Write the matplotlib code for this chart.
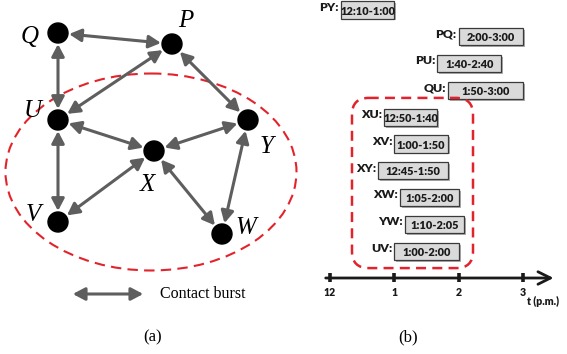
import matplotlib
matplotlib.use("Agg")
import matplotlib.pyplot as plt
from matplotlib.patches import Ellipse, FancyArrowPatch, FancyBboxPatch, Circle

# ---------------------------------------------------------------- data
nodes = ["Q", "P", "U", "Y", "X", "V", "W"]
edges = [("Q", "P"), ("Q", "U"), ("P", "U"), ("P", "Y"), ("U", "X"),
         ("U", "V"), ("Y", "X"), ("Y", "W"), ("X", "V"), ("X", "W")]

pairs = ["PY", "PQ", "PU", "QU", "XU", "XV", "XY", "XW", "YW", "UV"]
starts = ["12:10", "2:00", "1:40", "1:50", "12:50", "1:00", "12:45", "1:05", "1:10", "1:00"]
ends = ["1:00", "3:00", "2:40", "3:00", "1:40", "1:50", "1:50", "2:00", "2:05", "2:00"]
hour_ticks = [0, 1, 2, 3]
hour_labels = ["12", "1", "2", "3"]

# layout of the graph (pixel space of panel a)
pos = {"Q": (58, 33), "P": (172, 44), "U": (58, 120), "Y": (248, 120),
       "X": (154, 151), "V": (58, 222), "W": (222, 234)}
lab = {"Q": (30, 37), "P": (186, 21), "U": (33, 111), "Y": (267, 147),
       "X": (147, 185), "V": (33, 215), "W": (246, 228)}


def to_hours(t):
    h, m = map(int, t.split(":"))
    return (h % 12) + m / 60


GREY = "#5e5e5e"
RED = "#e3232b"
HEAD = "<|-|>,head_length=3.6,head_width=1.9"

fig = plt.figure(figsize=(5.67, 3.54), dpi=100)
ax = fig.add_axes([0, 0, 1, 1])
ax.set_xlim(0, 567); ax.set_ylim(354, 0); ax.axis("off")

# ------------------------------------------------------------ panel (a)
ax.add_patch(Ellipse((151, 172), 291, 197, fill=False, ec=RED, lw=1.5,
                     ls=(0, (5, 3)), zorder=1))
for a, b in edges:
    ax.add_patch(FancyArrowPatch(pos[a], pos[b], arrowstyle=HEAD,
                                 color=GREY, lw=2.2, shrinkA=8, shrinkB=8,
                                 mutation_scale=2, zorder=2))
for n in nodes:
    ax.add_patch(Circle(pos[n], 10, color="black", zorder=3))
    ax.text(*lab[n], n, family="Liberation Serif", style="italic", fontsize=18,
            ha="center", va="center", zorder=4)

ax.add_patch(FancyArrowPatch((70, 294), (146, 294), arrowstyle=HEAD,
                             color=GREY, lw=2.2, mutation_scale=2))
ax.text(160, 294, "Contact burst", family="Liberation Serif", fontsize=11.5,
        ha="left", va="center")
ax.text(153, 337, "(a)", family="Liberation Serif", fontsize=12, ha="center", va="center")
ax.text(408, 337, "(b)", family="Liberation Serif", fontsize=12, ha="center", va="center")

# ------------------------------------------------------------ panel (b)
px_hour, x0 = 64.3, 330.0
row_px, y0 = 26.8, 10.0
bx = fig.add_axes([0, 0, 1, 1], facecolor="none")
bx.set_xlim(-x0 / px_hour, (567 - x0) / px_hour)
bx.set_ylim((354 - y0) / row_px, -y0 / row_px)
bx.axis("off")

bfont = dict(family="Lato", weight="heavy", color="#1a1a1a")
box_h = 0.64
for i, (name, s, e) in enumerate(zip(pairs, starts, ends)):
    h0, h1 = to_hours(s), to_hours(e)
    bx.add_patch(FancyBboxPatch((h0 + 0.03, i - box_h / 2 + 0.07), h1 - h0, box_h,
                                boxstyle="square,pad=0", fc="#7a7a7a", ec="none",
                                alpha=0.6, zorder=2))
    bx.add_patch(FancyBboxPatch((h0, i - box_h / 2), h1 - h0, box_h,
                                boxstyle="square,pad=0", fc="#dadada", ec="#3a3a3a",
                                lw=0.9, zorder=3))
    bx.text((h0 + h1) / 2, i + 0.04, f"{s}-{e}", fontsize=7.9, ha="center",
            va="center", zorder=4, **bfont)
    bx.text(h0 - 0.03, i - 0.1, f"{name}:", fontsize=8.8, ha="right",
            va="center", zorder=4, **bfont)

# dashed group around the X-centred contacts
bx.add_patch(FancyBboxPatch((0.342, 3.28), 2.224 - 0.342, 9.63 - 3.28,
                            boxstyle="round,pad=0,rounding_size=0.26",
                            mutation_aspect=2.4, fill=False, ec=RED, lw=1.8,
                            ls=(0, (4, 2.5)), zorder=5))

# time axis
axis_row = 10
bx.annotate("", xy=(3.52, axis_row), xytext=(-0.11, axis_row),
            arrowprops=dict(arrowstyle="->,head_length=0.9,head_width=0.45",
                            color="#1a1a1a", lw=2.0))
for h, t in zip(hour_ticks, hour_labels):
    bx.plot([h, h], [axis_row - 0.18, axis_row + 0.15], color="#1a1a1a",
            lw=2.6, solid_capstyle="butt")
    bx.text(h, axis_row + 0.55, t, fontsize=7.6, ha="center", va="center", **bfont)
bx.text(3.06, axis_row + 0.88, "t (p.m.)", fontsize=7.6, ha="left", va="center", **bfont)

fig.savefig("out.png", dpi=100)
